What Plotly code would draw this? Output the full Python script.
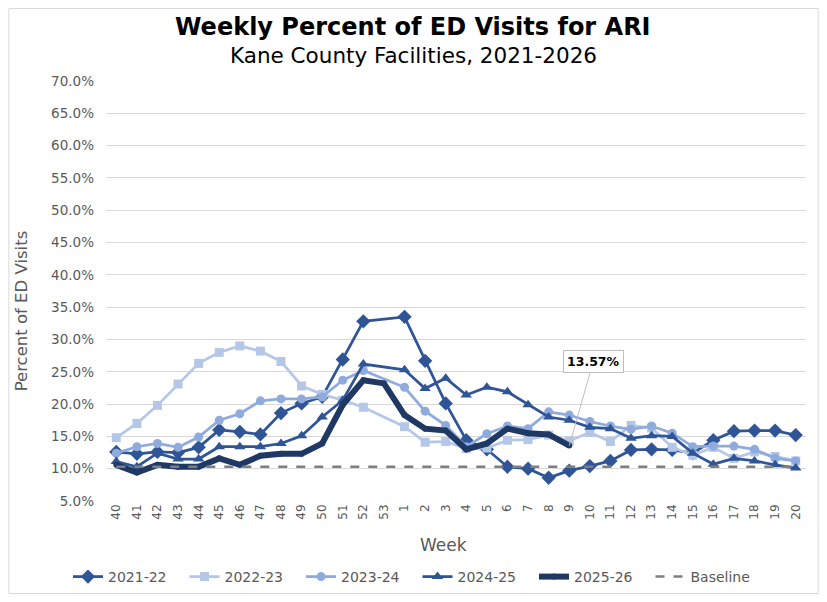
import plotly.graph_objs as go

# --- Data (percent of ED visits) ---
weeks = ['40', '41', '42', '43', '44', '45', '46', '47', '48', '49', '50', '51', '52', '53',
         '1', '2', '3', '4', '5', '6', '7', '8', '9', '10', '11', '12', '13', '14', '15',
         '16', '17', '18', '19', '20']

s2021_22 = [12.6, 12.3, 12.6, 12.5, 13.3, 16.0, 15.7, 15.3, 18.6, 20.1, 21.1, 26.9, 32.8, None,
            33.5, 26.7, 20.1, 14.4, 13.0, 10.3, 10.0, 8.6, 9.7, 10.4, 11.2, 12.9, 13.0, 12.9,
            12.4, 14.4, 15.8, 15.9, 15.9, 15.2]
s2022_23 = [14.8, 17.0, 19.8, 23.1, 26.3, 28.0, 29.0, 28.2, 26.6, 22.8, 21.5, 20.6, 19.5, None,
            16.5, 14.1, 14.2, 13.1, 13.2, 14.4, 14.5, 15.2, 14.3, 15.6, 14.2, 16.7, 16.3, 13.3,
            12.1, 13.3, 11.6, 12.6, 11.9, 11.2]
s2023_24 = [12.4, 13.4, 13.9, 13.3, 14.9, 17.5, 18.5, 20.5, 20.8, 20.8, 21.1, 23.7, 25.2, None,
            22.6, 18.9, 16.7, 13.4, 15.4, 16.6, 16.2, 18.8, 18.3, 17.3, 16.6, 16.1, 16.6, 15.5,
            13.4, 13.5, 13.5, 13.0, 11.6, 11.2]
s2024_25 = [11.1, 10.3, 12.4, 11.5, 11.5, 13.4, 13.4, 13.4, 13.9, 15.1, 18.0, 20.6, 26.2, None,
            25.3, 22.4, 24.0, 21.4, 22.6, 21.9, 19.9, 18.0, 17.5, 16.4, 16.2, 14.7, 15.1, 15.0,
            12.4, 10.7, 11.6, 11.2, 10.6, 10.1]
s2025_26 = [10.6, 9.4, 10.6, 10.3, 10.3, 11.6, 10.6, 12.0, 12.3, 12.3, 13.9, 19.9, 23.7, 23.2,
            18.3, 16.2, 15.9, 13.0, 13.9, 16.2, 15.5, 15.3, 13.57]
baseline_value = 10.3
baseline = [baseline_value] * len(weeks)

font_family = 'Verdana, DejaVu Sans, sans-serif'
grey_text = '#595959'

fig = go.Figure()

series = [
    ('2021-22', s2021_22, '#2f5597', 'diamond', 11),
    ('2022-23', s2022_23, '#b4c7e7', 'square', 9),
    ('2023-24', s2023_24, '#8faadc', 'circle', 9),
    ('2024-25', s2024_25, '#2f5597', 'triangle-up', 10),
]
for name, vals, color, symbol, msize in series:
    fig.add_trace(go.Scatter(
        x=weeks, y=vals, name=name, mode='lines+markers', connectgaps=True,
        line=dict(color=color, width=2.75),
        marker=dict(symbol=symbol, size=msize, color=color)
    ))

fig.add_trace(go.Scatter(
    x=weeks[:len(s2025_26)], y=s2025_26, name='2025-26', mode='lines+markers',
    line=dict(color='#1f3864', width=6),
    marker=dict(symbol='circle', size=6, color='#1f3864')
))

fig.add_trace(go.Scatter(
    x=weeks, y=baseline, name='Baseline', mode='lines',
    line=dict(color='#7f7f7f', width=2.5, dash='dash')
))

# Label on the latest 2025-26 point (category axis -> use index)
fig.add_annotation(
    x=weeks.index('9'), y=s2025_26[-1], text='<b>13.57%</b>', showarrow=True,
    arrowhead=0, arrowwidth=1, arrowcolor='#bfbfbf', ax=24, ay=-84,
    bgcolor='white', bordercolor='#bfbfbf', borderwidth=1, borderpad=3,
    font=dict(family=font_family, size=12.5, color='black')
)

# paper coordinates from screen pixels: plot area spans x 105.7-806.3, y 81-501
def px(x):
    return (x - 105.7) / 700.6

def py(y):
    return (501 - y) / 420

fig.add_annotation(x=px(413), xref='paper', y=py(27), yref='paper', showarrow=False,
                   text='<b>Weekly Percent of ED Visits for ARI</b>', yanchor='middle',
                   font=dict(family=font_family, size=24, color='black'))
fig.add_annotation(x=px(413), xref='paper', y=py(55), yref='paper', showarrow=False,
                   text='Kane County Facilities, 2021-2026', yanchor='middle',
                   font=dict(family=font_family, size=21.5, color='black'))
fig.add_annotation(x=px(443), xref='paper', y=py(545), yref='paper', showarrow=False,
                   text='Week', yanchor='middle',
                   font=dict(family=font_family, size=17, color=grey_text))
fig.add_annotation(x=px(21), xref='paper', y=py(311), yref='paper', showarrow=False,
                   text='Percent of ED Visits', textangle=-90, xanchor='center',
                   yanchor='middle',
                   font=dict(family=font_family, size=16.5, color=grey_text))

fig.update_layout(
    width=811, height=586,
    margin=dict(l=98, r=13, t=73, b=93),
    paper_bgcolor='white', plot_bgcolor='white',
    font=dict(family=font_family, size=13, color=grey_text),
    showlegend=True,
    legend=dict(orientation='h', xref='container', x=(68 - 8) / 811, xanchor='left',
                yref='container', y=1 - (577 - 8) / 586, yanchor='middle',
                font=dict(family=font_family, size=14, color=grey_text),
                itemwidth=30, entrywidth=71.5, tracegroupgap=0),
    xaxis=dict(type='category', range=[-0.5, 33.5], tickangle=-90, showgrid=False,
               showline=False, ticks='', tickfont=dict(size=12, color=grey_text)),
    yaxis=dict(range=[5, 70], dtick=5, tickformat='.1f', ticksuffix='%',
               gridcolor='#d9d9d9', gridwidth=1, zeroline=False, showline=False,
               ticklabelstandoff=11,
               tickfont=dict(size=13.5, color=grey_text)),
    shapes=[dict(type='rect', xref='paper', yref='paper',
                 x0=px(8.5), x1=px(818.5), y0=py(593.5), y1=py(8.5),
                 line=dict(color='#d9d9d9', width=1))],
)

fig.write_html('out.html')
